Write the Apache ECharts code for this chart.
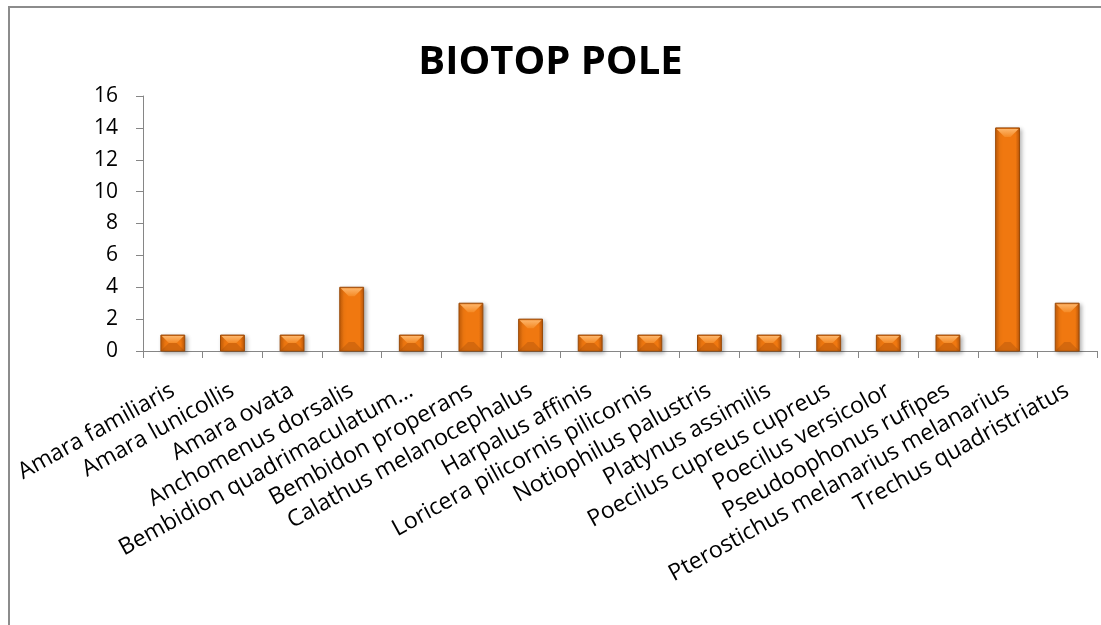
<!DOCTYPE html>
<html>
<head>
<meta charset="utf-8">
<script src="https://cdn.jsdelivr.net/npm/echarts@6/dist/echarts.min.js"></script>
<style>
  html, body { margin: 0; padding: 0; background: #fff; }
  #chart { width: 1101px; height: 625px; }
</style>
</head>
<body>
<div id="chart"></div>
<script>
// Carabid species caught in the field biotope and their counts
const species = [
  'Amara familiaris',
  'Amara lunicollis',
  'Amara ovata',
  'Anchomenus dorsalis',
  'Bembidion quadrimaculatum…',
  'Bembidon properans',
  'Calathus melanocephalus',
  'Harpalus affinis',
  'Loricera pilicornis pilicornis',
  'Notiophilus palustris',
  'Platynus assimilis',
  'Poecilus cupreus cupreus',
  'Poecilus versicolor',
  'Pseudoophonus rufipes',
  'Pterostichus melanarius melanarius',
  'Trechus quadristriatus'
];
const counts = [1, 1, 1, 4, 1, 3, 2, 1, 1, 1, 1, 1, 1, 1, 14, 3];
const yTicks = [0, 2, 4, 6, 8, 10, 12, 14, 16];

const chart = echarts.init(document.getElementById('chart'));

// Bevelled orange column: body, lighter top face, darker bottom face
function bevelBar(params, api) {
  const i = api.value(0);
  const v = api.value(1);
  const top = api.coord([i, v]);
  const base = api.coord([i, 0]);
  const w = api.size([1, 0])[0] * 0.4;
  const x0 = top[0] - w / 2, x1 = top[0] + w / 2;
  const y0 = top[1], y1 = base[1];
  const h = y1 - y0;
  const b = Math.min(9, h / 2);
  return {
    type: 'group',
    children: [
      {
        type: 'rect',
        shape: { x: x0, y: y0, width: w, height: h },
        style: {
          fill: new echarts.graphic.LinearGradient(0, 0, 1, 0, [
            { offset: 0, color: '#c55d07' },
            { offset: 0.18, color: '#f07810' },
            { offset: 0.82, color: '#f07810' },
            { offset: 1, color: '#b9560a' }
          ]),
          stroke: '#9a4a08',
          lineWidth: 1,
          shadowBlur: 4,
          shadowOffsetX: 2,
          shadowOffsetY: 2,
          shadowColor: 'rgba(0,0,0,0.3)'
        }
      },
      {
        type: 'polygon',
        shape: { points: [[x0 + 1, y0 + 1], [x1 - 1, y0 + 1], [x1 - b, y0 + b], [x0 + b, y0 + b]] },
        style: {
          fill: new echarts.graphic.LinearGradient(0, 0, 0, 1, [
            { offset: 0, color: '#fdb56a' },
            { offset: 1, color: '#f58a25' }
          ])
        }
      },
      {
        type: 'polygon',
        shape: { points: [[x0 + 1, y1 - 1], [x1 - 1, y1 - 1], [x1 - b, y1 - b], [x0 + b, y1 - b]] },
        style: { fill: 'rgba(150,70,10,0.3)' }
      }
    ]
  };
}

const axisGray = '#868686';

chart.setOption({
  animation: false,
  backgroundColor: '#fff',
  title: {
    text: 'BIOTOP POLE',
    left: 'center',
    top: 38,
    textStyle: {
      fontFamily: 'Open Sans',
      fontWeight: 'bold',
      fontSize: 40,
      color: '#000'
    }
  },
  graphic: [
    {
      type: 'rect',
      shape: { x: 9, y: 7, width: 1200, height: 700 },
      style: { fill: 'none', stroke: '#8c8c8c', lineWidth: 2 },
      silent: true,
      z: -1
    }
  ],
  grid: { left: 143, top: 96, right: 4, bottom: 274, containLabel: false },
  xAxis: {
    type: 'category',
    data: species,
    axisLine: { lineStyle: { color: axisGray, width: 1 } },
    axisTick: { show: true, length: 7, lineStyle: { color: axisGray } },
    axisLabel: {
      interval: 0,
      rotate: 29,
      margin: 38,
      fontFamily: 'Open Sans',
      fontSize: 23,
      color: '#000'
    }
  },
  yAxis: {
    type: 'value',
    min: 0,
    max: 16,
    interval: 2,
    axisLine: { show: true, lineStyle: { color: axisGray, width: 1 } },
    axisTick: { show: true, length: 7, lineStyle: { color: axisGray } },
    splitLine: { show: false },
    axisLabel: {
      margin: 25,
      fontFamily: 'Open Sans',
      fontSize: 21,
      color: '#000',
      formatter: v => (yTicks.includes(v) ? String(v) : '')
    }
  },
  series: [
    {
      type: 'custom',
      renderItem: bevelBar,
      encode: { x: 0, y: 1 },
      data: counts.map((c, i) => [i, c])
    }
  ]
});
</script>
</body>
</html>
